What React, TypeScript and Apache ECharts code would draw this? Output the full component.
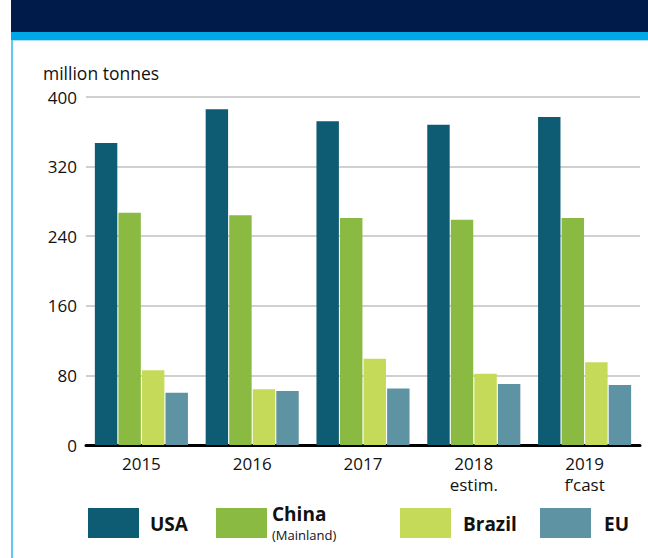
import React, { useEffect, useRef } from "react";
import * as echarts from "echarts";

const categories = ["2015", "2016", "2017", "2018\nestim.", "2019\nf\u2019cast"];
const seriesNames = ["USA", "China", "Brazil", "EU"];
const usa = [347, 386, 372, 368, 377];
const china = [267, 264, 261, 259, 261];
const brazil = [86, 64, 99, 82, 95];
const eu = [60, 62, 65, 70, 69];
const yTicks = [0, 80, 160, 240, 320, 400];
const colors = ["#0d5c73", "#8aba41", "#c6da5a", "#5e93a3"];
const FONT = "Open Sans";

export default function App() {
  const ref = useRef<HTMLDivElement>(null);
  useEffect(() => {
    document.body.style.margin = "0";
    const chart = echarts.init(ref.current!, undefined, { renderer: "svg" });
    const data = [usa, china, brazil, eu];
    const legendItems = [
      { sx: 88, tx: 150, name: seriesNames[0] },
      { sx: 216, tx: 272, name: seriesNames[1], sub: "(Mainland)" },
      { sx: 400, tx: 463, name: seriesNames[2] },
      { sx: 540, tx: 604, name: seriesNames[3] },
    ];
    const legendGraphics: any[] = [];
    legendItems.forEach((it, i) => {
      legendGraphics.push({
        type: "rect",
        shape: { x: it.sx, y: 508, width: 51, height: 30 },
        style: { fill: colors[i] },
      });
      legendGraphics.push({
        type: "text",
        x: it.tx,
        y: it.sub ? 514 : 524,
        style: {
          text: it.name,
          font: `bold 19px "${FONT}"`,
          fill: "#111",
          textVerticalAlign: "middle",
        },
      });
      if (it.sub) {
        legendGraphics.push({
          type: "text",
          x: it.tx,
          y: 535,
          style: {
            text: it.sub,
            font: `13px "${FONT}"`,
            fill: "#111",
            textVerticalAlign: "middle",
          },
        });
      }
    });
    chart.setOption({
      animation: false,
      backgroundColor: "#ffffff",
      grid: { left: 86, right: 8, top: 97, bottom: 113, containLabel: false },
      xAxis: {
        type: "category",
        data: categories,
        axisLine: { show: true, lineStyle: { color: "#000", width: 3 } },
        axisTick: { show: false },
        axisLabel: {
          color: "#111",
          fontFamily: FONT,
          fontSize: 17,
          lineHeight: 21,
          margin: 8,
        },
      },
      yAxis: {
        type: "value",
        min: yTicks[0],
        max: yTicks[yTicks.length - 1],
        interval: 80,
        axisLine: { show: false },
        axisTick: { show: false },
        axisLabel: { color: "#111", fontFamily: FONT, fontSize: 17, margin: 9 },
        splitLine: { lineStyle: { color: "#d0d0d0", width: 2 } },
      },
      series: data.map((d, i) => ({
        name: seriesNames[i],
        type: "bar",
        data: d,
        itemStyle: { color: colors[i] },
        barGap: "5%",
        barCategoryGap: "16%",
      })),
      graphic: [
        { type: "rect", shape: { x: 11, y: 0, width: 637, height: 32 }, style: { fill: "#001a4a" } },
        { type: "rect", shape: { x: 11, y: 32, width: 637, height: 8 }, style: { fill: "#00a9e6" } },
        { type: "rect", shape: { x: 11, y: 40, width: 637, height: 1 }, style: { fill: "#a8e0f5" } },
        { type: "rect", shape: { x: 11, y: 40, width: 2, height: 518 }, style: { fill: "#5bcbf5" } },
        {
          type: "text",
          x: 43,
          y: 73,
          style: {
            text: "million tonnes",
            font: `17.5px "${FONT}"`,
            fill: "#111",
            textVerticalAlign: "middle",
          },
        },
        ...legendGraphics,
      ],
    });
    return () => chart.dispose();
  }, []);
  return (
    <div
      ref={ref}
      style={{ position: "absolute", left: 0, top: 0, width: 648, height: 558 }}
    />
  );
}
